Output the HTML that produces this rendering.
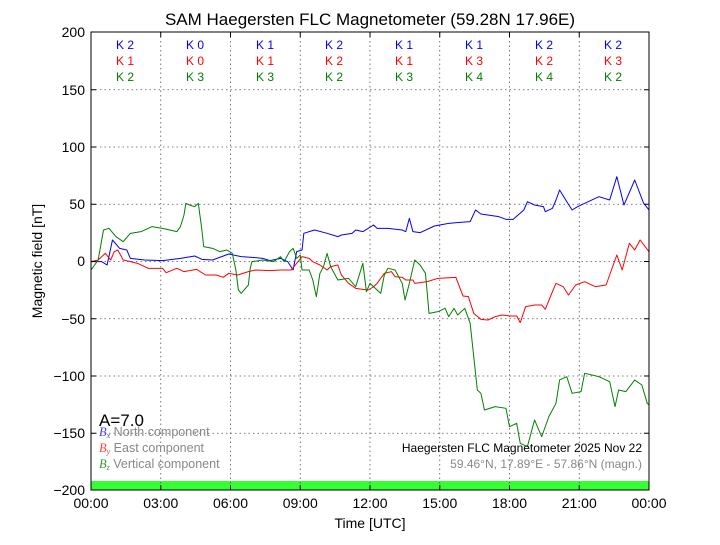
<!DOCTYPE html>
<html><head><meta charset="utf-8"><style>
body{margin:0;background:#fff;width:720px;height:540px;overflow:hidden;font-family:"Liberation Sans",sans-serif}
</style></head><body>
<svg width="720" height="540" xmlns="http://www.w3.org/2000/svg" font-family="Liberation Sans, sans-serif">
<rect width="720" height="540" fill="#fff"/>
<text x="370" y="25" font-size="17" text-anchor="middle">SAM Haegersten FLC Magnetometer (59.28N 17.96E)</text>
<rect x="91" y="481" width="558" height="9" fill="#33ff33"/>
<g stroke="#555" stroke-dasharray="1.5,3" stroke-width="0.8">
<line x1="160.75" y1="32" x2="160.75" y2="490"/><line x1="230.5" y1="32" x2="230.5" y2="490"/><line x1="300.25" y1="32" x2="300.25" y2="490"/><line x1="370" y1="32" x2="370" y2="490"/><line x1="439.75" y1="32" x2="439.75" y2="490"/><line x1="509.5" y1="32" x2="509.5" y2="490"/><line x1="579.25" y1="32" x2="579.25" y2="490"/>
<line x1="91" y1="89.75" x2="649" y2="89.75"/><line x1="91" y1="147" x2="649" y2="147"/><line x1="91" y1="204.25" x2="649" y2="204.25"/><line x1="91" y1="261.5" x2="649" y2="261.5"/><line x1="91" y1="318.75" x2="649" y2="318.75"/><line x1="91" y1="376" x2="649" y2="376"/><line x1="91" y1="433.25" x2="649" y2="433.25"/>
</g>
<g font-size="12" text-anchor="middle">
<g fill="#0000ff"><text x="125" y="49">K 2</text><text x="195" y="49">K 0</text><text x="265" y="49">K 1</text><text x="334" y="49">K 2</text><text x="404" y="49">K 1</text><text x="474" y="49">K 1</text><text x="544" y="49">K 2</text><text x="613" y="49">K 2</text></g>
<g fill="#ff0000"><text x="125" y="65">K 1</text><text x="195" y="65">K 0</text><text x="265" y="65">K 1</text><text x="334" y="65">K 2</text><text x="404" y="65">K 1</text><text x="474" y="65">K 3</text><text x="544" y="65">K 2</text><text x="613" y="65">K 3</text></g>
<g fill="#008000"><text x="125" y="81">K 2</text><text x="195" y="81">K 3</text><text x="265" y="81">K 3</text><text x="334" y="81">K 2</text><text x="404" y="81">K 3</text><text x="474" y="81">K 4</text><text x="544" y="81">K 4</text><text x="613" y="81">K 2</text></g>
</g>
<g transform="translate(91,190) scale(0.3577,0.3333)" fill="none" stroke-width="1" stroke-linejoin="round">
<polyline vector-effect="non-scaling-stroke" stroke="#0000ff" points="0,215 30,215 45,225 60,150 80,175 100,180 110,205 150,210 200,212 250,205 290,198 310,208 340,210 385,192 420,200 450,202 480,205 500,212 530,205 550,215 565,240 575,185 590,180 595,130 625,120 660,130 690,140 700,135 730,130 740,120 760,125 790,105 800,115 830,115 870,120 880,125 890,85 900,125 920,128 960,108 1000,100 1030,97 1060,95 1075,60 1090,72 1140,80 1160,88 1180,88 1210,60 1220,35 1240,45 1265,50 1270,65 1290,55 1300,30 1310,0 1330,35 1345,60 1360,50 1390,35 1420,20 1450,30 1470,-40 1490,45 1500,20 1520,-30 1545,40 1560,60"/>
<polyline vector-effect="non-scaling-stroke" stroke="#ff0000" points="0,215 20,210 40,190 55,210 65,185 75,180 90,210 110,215 130,220 160,235 200,235 210,248 240,235 260,245 295,238 320,255 350,255 370,262 385,250 410,255 440,245 460,240 500,242 530,240 560,240 590,200 610,205 620,215 640,225 660,240 670,230 690,225 700,255 720,280 740,295 760,298 775,300 790,290 800,280 820,250 840,245 850,260 870,262 880,270 900,270 905,280 940,275 970,265 1020,262 1030,290 1040,318 1055,320 1070,370 1090,388 1110,390 1130,380 1150,375 1170,378 1190,378 1200,398 1215,350 1240,345 1260,345 1270,358 1290,305 1300,280 1320,290 1335,315 1355,285 1380,275 1410,290 1440,285 1470,195 1485,240 1505,160 1520,180 1535,150 1560,185"/>
<polyline vector-effect="non-scaling-stroke" stroke="#008000" points="0,240 20,210 35,120 50,115 70,140 90,155 110,130 140,125 170,110 200,115 240,125 250,110 260,75 265,40 275,45 290,50 300,40 310,120 315,170 340,175 360,185 380,180 395,190 405,240 412,300 420,310 440,285 445,235 450,215 480,210 510,215 530,200 540,215 555,185 565,175 575,205 585,195 590,240 610,240 620,270 630,320 640,250 650,230 660,190 670,230 690,270 720,265 740,290 760,220 770,305 780,280 800,300 810,310 820,255 830,235 850,240 870,280 878,330 890,280 905,210 920,225 935,250 945,370 970,365 990,355 1000,380 1015,355 1025,375 1045,355 1060,400 1080,600 1090,610 1100,660 1130,650 1160,655 1170,710 1190,700 1200,760 1220,770 1240,690 1260,740 1280,680 1300,640 1310,570 1330,560 1345,610 1370,605 1380,550 1420,560 1450,575 1465,650 1475,600 1495,605 1520,570 1540,585 1555,640 1560,645"/>
</g>
<rect x="91" y="32" width="558" height="458" fill="none" stroke="#000" stroke-width="1"/>
<g stroke="#000" stroke-width="1">
<path d="M91,89.75h5M91,147h5M91,204.25h5M91,261.5h5M91,318.75h5M91,376h5M91,433.25h5M649,89.75h-5M649,147h-5M649,204.25h-5M649,261.5h-5M649,318.75h-5M649,376h-5M649,433.25h-5"/>
<path d="M160.75,490v-5M230.5,490v-5M300.25,490v-5M370,490v-5M439.75,490v-5M509.5,490v-5M579.25,490v-5M160.75,32v5M230.5,32v5M300.25,32v5M370,32v5M439.75,32v5M509.5,32v5M579.25,32v5"/>
</g>
<g font-size="14" text-anchor="end">
<text x="85" y="37">200</text><text x="85" y="95">150</text><text x="85" y="152">100</text><text x="85" y="209">50</text><text x="85" y="266">0</text><text x="85" y="324">−50</text><text x="85" y="381">−100</text><text x="85" y="438">−150</text><text x="85" y="495">−200</text>
</g>
<g font-size="14" text-anchor="middle">
<text x="91" y="508">00:00</text><text x="160.75" y="508">03:00</text><text x="230.5" y="508">06:00</text><text x="300.25" y="508">09:00</text><text x="370" y="508">12:00</text><text x="439.75" y="508">15:00</text><text x="509.5" y="508">18:00</text><text x="579.25" y="508">21:00</text><text x="649" y="508">00:00</text>
<text x="370" y="528">Time [UTC]</text>
</g>
<text x="42" y="261" font-size="14" text-anchor="middle" transform="rotate(-90 42 261)">Magnetic field [nT]</text>
<text x="99" y="426" font-size="17">A=7.0</text>
<g font-size="12.5" fill="#888">
<text x="99" y="436"><tspan fill="#4444ff" font-family="Liberation Serif" font-style="italic">B</tspan><tspan fill="#4444ff" font-size="8" font-family="Liberation Serif" font-style="italic" dy="2">x</tspan><tspan dy="-2"> North component</tspan></text>
<text x="99" y="452"><tspan fill="#ff4444" font-family="Liberation Serif" font-style="italic">B</tspan><tspan fill="#ff4444" font-size="8" font-family="Liberation Serif" font-style="italic" dy="2">y</tspan><tspan dy="-2"> East component</tspan></text>
<text x="99" y="468"><tspan fill="#339933" font-family="Liberation Serif" font-style="italic">B</tspan><tspan fill="#339933" font-size="8" font-family="Liberation Serif" font-style="italic" dy="2">z</tspan><tspan dy="-2"> Vertical component</tspan></text>
</g>
<text x="642" y="452" font-size="12" text-anchor="end">Haegersten FLC Magnetometer 2025 Nov 22</text>
<text x="642" y="468" font-size="12" text-anchor="end" fill="#888">59.46°N, 17.89°E - 57.86°N (magn.)</text>
</svg>
</body></html>
